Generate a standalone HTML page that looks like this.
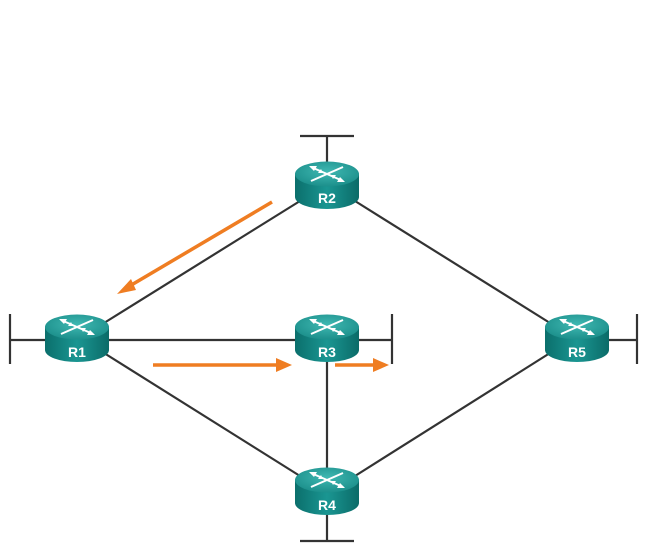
<!DOCTYPE html>
<html><head><meta charset="utf-8"><style>
html,body{margin:0;padding:0;background:#fff;}
svg{display:block;}
</style></head><body>
<svg width="653" height="556" viewBox="0 0 653 556" xmlns="http://www.w3.org/2000/svg">
<defs>
<linearGradient id="body" x1="0" x2="1" y1="0" y2="0">
<stop offset="0" stop-color="#0b6f6c"/><stop offset="0.5" stop-color="#1a9692"/><stop offset="1" stop-color="#0b6b68"/>
</linearGradient>
<radialGradient id="top" cx="0.5" cy="0.4" r="0.6">
<stop offset="0" stop-color="#3fb8b2"/><stop offset="1" stop-color="#1c8f8b"/>
</radialGradient>
<g id="rt">
<path d="M-32,0 L-32,23 A32,12 0 0 0 32,23 L32,0 Z" fill="url(#body)"/>
<ellipse cx="0" cy="0" rx="32" ry="12.5" fill="url(#top)"/>
<g stroke="#fff" stroke-width="2" fill="#fff">
<line x1="-16" y1="-7" x2="16" y2="7"/>
<line x1="16" y1="-7" x2="-16" y2="7"/>
<polygon points="-18,-8 -10,-8 -13,-3" stroke="none"/>
<polygon points="18,8 10,8 13,3" stroke="none"/>
<polygon points="-4,-1 -9,-1 -6,-5" stroke="none"/>
<polygon points="4,1 9,1 6,5" stroke="none"/>
</g>
</g>
</defs>
<g stroke="#333" stroke-width="2.2" fill="none">
<line x1="300" y1="136" x2="354" y2="136"/><line x1="327" y1="136" x2="327" y2="165"/>
<line x1="10" y1="314" x2="10" y2="364"/><line x1="10" y1="340" x2="50" y2="340"/>
<line x1="392" y1="314" x2="392" y2="364"/><line x1="355" y1="340" x2="392" y2="340"/>
<line x1="637" y1="314" x2="637" y2="364"/><line x1="600" y1="340" x2="637" y2="340"/>
<line x1="300" y1="541" x2="354" y2="541"/><line x1="327" y1="510" x2="327" y2="541"/>
<line x1="300" y1="201" x2="104" y2="323"/>
<line x1="355" y1="201" x2="550" y2="323"/>
<line x1="105" y1="340" x2="300" y2="340"/>
<line x1="104" y1="353" x2="300" y2="476"/>
<line x1="327" y1="360" x2="327" y2="470"/>
<line x1="550" y1="353" x2="355" y2="476"/>
</g>
<use href="#rt" x="327" y="174"/>
<use href="#rt" x="77" y="327"/>
<use href="#rt" x="327" y="327"/>
<use href="#rt" x="577" y="327"/>
<use href="#rt" x="327" y="480"/>
<g font-family="Liberation Sans, sans-serif" font-weight="bold" font-size="14" fill="#fff" text-anchor="middle">
<text x="327" y="203">R2</text>
<text x="77" y="357">R1</text>
<text x="327" y="357">R3</text>
<text x="577" y="357">R5</text>
<text x="327" y="510">R4</text>
</g>
<g stroke="#ef7d22" stroke-width="3.5" fill="#ef7d22">
<line x1="272" y1="202" x2="128" y2="287"/>
<polygon points="117,294 131,279 136,290" stroke="none"/>
<line x1="153" y1="365" x2="280" y2="365"/>
<polygon points="292,365 276,358 276,372" stroke="none"/>
<line x1="335" y1="365" x2="376" y2="365"/>
<polygon points="389,365 373,358 373,372" stroke="none"/>
</g>
</svg>
</body></html>
